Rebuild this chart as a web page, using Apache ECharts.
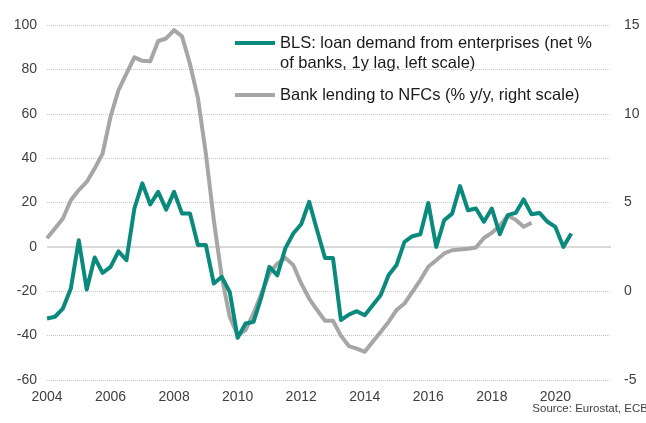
<!DOCTYPE html>
<html><head><meta charset="utf-8">
<script src="https://cdn.jsdelivr.net/npm/echarts@6/dist/echarts.min.js"></script>
<style>html,body{margin:0;padding:0;background:#fff}#c{width:646px;height:423px}</style>
</head><body><div id="c"></div>
<script>
// Quarterly categories 2004Q1 .. 2021Q4
const years = [];
for (let y = 2004; y <= 2021; y++) years.push(y);
const quarters = [];
years.forEach(y => { for (let q = 1; q <= 4; q++) quarters.push(y + 'Q' + q); });

const xTickLabels = ['2004','2006','2008','2010','2012','2014','2016','2018','2020'];

// BLS: loan demand from enterprises (net % of banks, 1y lag), left scale, 2004Q1..2020Q3
const blsDemand = [
  -32.3, -31.5, -27.8, -18.8, 3, -19.2, -4.8, -11.7,
  -9, -2, -6, 17.3, 28.6, 19.1, 24.8, 16.8,
  24.8, 15, 15, 0.8, 0.8, -16.5, -13.5, -20.3,
  -41, -34.5, -33.8, -22.5, -9, -12.8, -0.7, 6,
  10.2, 20.3, 7.5, -5, -5, -33, -30.5, -29,
  -30.8, -26.3, -21.8, -12.8, -8.2, 2.3, 4.8, 5.7,
  19.8, 0, 12, 15, 27.4, 16.5, 17.3, 11.3,
  17.3, 5.7, 14.3, 15.3, 21.4, 14.7, 15.3, 11.3,
  9, 0, 6
];

// Bank lending to NFCs (% y/y), right scale, 2004Q1..2019Q2
const nfcLending = [
  2.98, 3.54, 4.1, 5.13, 5.7, 6.16, 6.91, 7.76,
  9.83, 11.33, 12.26, 13.18, 12.98, 12.96, 14.1, 14.24,
  14.71, 14.36, 12.8, 10.88, 7.75, 4.0, 0.81, -1.44,
  -2.48, -2.19, -1.25, -0.13, 1.0, 1.56, 1.88, 1.48,
  0.44, -0.41, -1.06, -1.66, -1.66, -2.5, -3.09, -3.23,
  -3.41, -2.85, -2.29, -1.73, -1.06, -0.69, -0.04, 0.63,
  1.38, 1.75, 2.13, 2.31, 2.35, 2.39, 2.46, 3.0,
  3.29, 3.69, 4.25, 4.03, 3.63, 3.86
];

const seriesNames = [
  'BLS: loan demand from enterprises (net % of banks, 1y lag, left scale)',
  'Bank lending to NFCs (% y/y, right scale)'
];
const legendLine1 = 'BLS: loan demand from enterprises (net %';
const legendLine2 = 'of banks, 1y lag, left scale)';
const leftTicks = {min: -60, max: 100, interval: 20};
const rightTicks = {min: -5, max: 15, interval: 5};

const FONT = 'Liberation Sans, Arial, sans-serif';
const LEG_FS = 16.5;
const legendCommon = {
  orient: 'vertical', left: 235, padding: 0,
  itemWidth: 40, itemHeight: 4, icon: 'rect',
  textStyle: {fontSize: LEG_FS, color: '#1a1a1a', fontFamily: FONT, lineHeight: 20}
};
const chart = echarts.init(document.getElementById('c'), null, {renderer: 'canvas'});
chart.setOption({
  animation: false,
  backgroundColor: '#ffffff',
  textStyle: {fontFamily: FONT},
  grid: {left: 47, right: 35, top: 25, bottom: 43, containLabel: false},
  legend: [
    Object.assign({}, legendCommon, {top: 33, data: [seriesNames[0]], formatter: () => legendLine1}),
    Object.assign({}, legendCommon, {top: 85, data: [seriesNames[1]]})
  ],
  xAxis: {
    type: 'category', data: quarters, boundaryGap: false,
    axisLine: {show: false}, axisTick: {show: false}, splitLine: {show: false},
    axisLabel: {
      color: '#404040', fontSize: 14, fontFamily: FONT, margin: 10,
      interval: (i, v) => v.endsWith('Q1') && xTickLabels.includes(v.slice(0, 4)),
      formatter: v => v.slice(0, 4)
    }
  },
  yAxis: [
    {
      type: 'value', min: leftTicks.min, max: leftTicks.max, interval: leftTicks.interval,
      axisLine: {show: false}, axisTick: {show: false},
      axisLabel: {color: '#404040', fontSize: 14, fontFamily: FONT, margin: 10},
      splitLine: {show: true, lineStyle: {color: '#c8c8c8', type: [1, 1], width: 1}}
    },
    {
      type: 'value', min: rightTicks.min, max: rightTicks.max, interval: rightTicks.interval,
      axisLine: {show: false}, axisTick: {show: false},
      axisLabel: {color: '#404040', fontSize: 14, fontFamily: FONT, margin: 13},
      splitLine: {show: false}
    }
  ],
  graphic: [
    {
      type: 'text', x: 280, y: 63,
      style: {text: legendLine2, fill: '#1a1a1a', fontSize: LEG_FS, fontFamily: FONT, verticalAlign: 'middle'}
    },
    {
      type: 'text', right: -2, top: 403,
      style: {text: 'Source: Eurostat, ECB', fill: '#404040', fontSize: 11.5, fontFamily: FONT}
    }
  ],
  series: [
    {
      name: seriesNames[1], type: 'line', yAxisIndex: 1, data: nfcLending,
      showSymbol: false, symbol: 'none',
      lineStyle: {color: '#a6a6a6', width: 4, join: 'round'}, itemStyle: {color: '#a6a6a6'},
      z: 2
    },
    {
      name: seriesNames[0], type: 'line', yAxisIndex: 0, data: blsDemand,
      showSymbol: false, symbol: 'none',
      lineStyle: {color: '#0a8a7c', width: 4, join: 'round'}, itemStyle: {color: '#0a8a7c'},
      z: 3,
      markLine: {
        silent: true, symbol: 'none', label: {show: false}, z: 1,
        lineStyle: {color: '#d9d9d9', type: 'solid', width: 2},
        data: [{yAxis: 0}]
      }
    }
  ]
});
</script></body></html>
